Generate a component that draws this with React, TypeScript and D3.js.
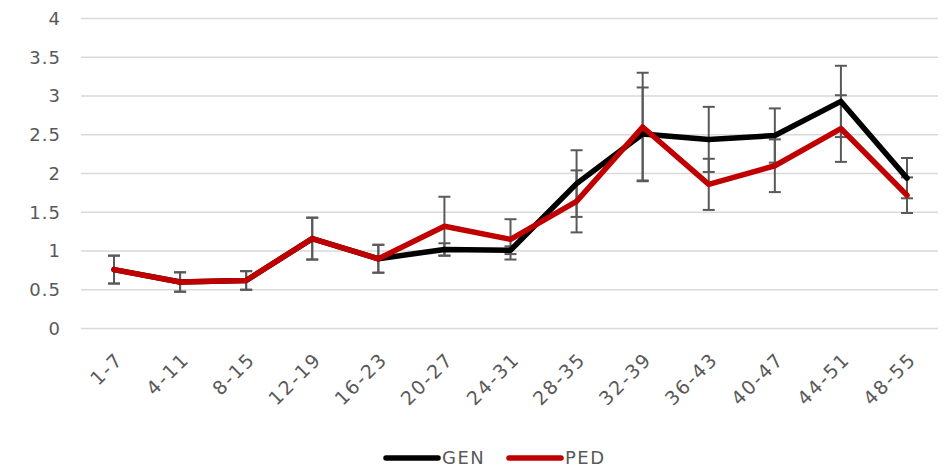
import React from "react";
import * as d3 from "d3";

const categories = ["1-7", "4-11", "8-15", "12-19", "16-23", "20-27", "24-31", "28-35", "32-39", "36-43", "40-47", "44-51", "48-55"];
const genValues = [0.76, 0.6, 0.62, 1.16, 0.9, 1.02, 1.01, 1.87, 2.51, 2.44, 2.49, 2.93, 1.94];
const genErrors = [0.18, 0.125, 0.12, 0.27, 0.18, 0.08, 0.05, 0.43, 0.6, 0.42, 0.35, 0.46, 0.26];
const pedValues = [0.76, 0.6, 0.62, 1.16, 0.9, 1.32, 1.15, 1.64, 2.6, 1.86, 2.1, 2.58, 1.72];
const pedErrors = [0.18, 0.125, 0.12, 0.27, 0.18, 0.38, 0.26, 0.4, 0.7, 0.33, 0.34, 0.43, 0.23];
const yTicks = [0, 0.5, 1, 1.5, 2, 2.5, 3, 3.5, 4];

const W = 951;
const H = 472;
const FONT = "'DejaVu Sans', sans-serif";
const TEXT = "#595959";

export default function App() {
  const x = d3.scalePoint<string>().domain(categories).range([114, 907]);
  const y = d3.scaleLinear().domain([0, 4]).range([328.5, 18.5]);
  const line = d3
    .line<number>()
    .x((_, i) => x(categories[i]) as number)
    .y((d) => y(d));

  const series = [
    { name: "GEN", values: genValues, errors: genErrors, color: "#000000" },
    { name: "PED", values: pedValues, errors: pedErrors, color: "#C00000" },
  ];

  return (
    <svg width={W} height={H} style={{ position: "absolute", left: 0, top: 0, fontFamily: FONT }}>
      <rect width={W} height={H} fill="#fff" />
      {yTicks.map((t) => (
        <g key={t}>
          <line x1={81} x2={938} y1={y(t)} y2={y(t)} stroke="#d9d9d9" strokeWidth={1.5} />
          <text x={61} y={y(t)} dy="0.36em" textAnchor="end" fontSize={18} letterSpacing={1} fill={TEXT}>
            {t}
          </text>
        </g>
      ))}
      {categories.map((c) => (
        <text
          key={c}
          transform={`translate(${(x(c) as number) + 1},${351}) rotate(-45)`}
          textAnchor="end"
          dy="0.7em"
          fontSize={19}
          letterSpacing={2}
          fill={TEXT}
        >
          {c}
        </text>
      ))}
      {series.map((s) =>
        s.values.map((v, i) => {
          const cx = x(categories[i]) as number;
          const top = y(v + s.errors[i]);
          const bot = y(v - s.errors[i]);
          return (
            <g key={s.name + i} stroke="#595959" strokeWidth={2}>
              <line x1={cx} x2={cx} y1={top} y2={bot} />
              <line x1={cx - 6} x2={cx + 6} y1={top} y2={top} />
              <line x1={cx - 6} x2={cx + 6} y1={bot} y2={bot} />
            </g>
          );
        })
      )}
      {series.map((s) => (
        <path
          key={s.name}
          d={line(s.values) as string}
          fill="none"
          stroke={s.color}
          strokeWidth={5.5}
          strokeLinejoin="round"
          strokeLinecap="round"
        />
      ))}
      {series.map((s, i) => {
        const lx = 386 + i * 123;
        return (
          <g key={s.name}>
            <line x1={lx} x2={lx + 52} y1={458} y2={458} stroke={s.color} strokeWidth={5.5} strokeLinecap="round" />
            <text x={lx + 56} y={458} dy="0.36em" fontSize={18} letterSpacing={1.5} fill={TEXT}>
              {s.name}
            </text>
          </g>
        );
      })}
    </svg>
  );
}
